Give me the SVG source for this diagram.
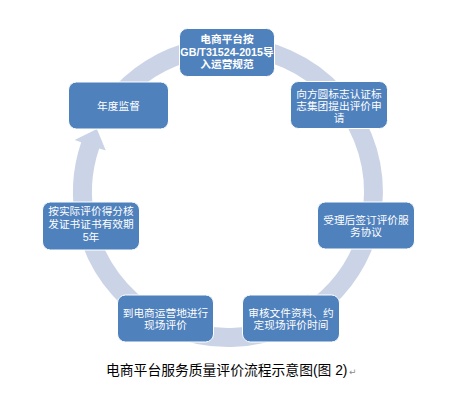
<svg xmlns="http://www.w3.org/2000/svg" width="459" height="394" viewBox="0 0 459 394">
<style>
.arr{fill:#cbd4e6;stroke:none}
.box{fill:#4f81bd;stroke:#ffffff;stroke-width:1}
.t{font-family:"Liberation Sans","Noto Sans CJK SC",sans-serif;font-size:10.7px;fill:#ffffff;text-anchor:middle}
.cap{font-family:"Liberation Sans","Noto Sans CJK SC",sans-serif;font-size:13.8px;fill:#000000}
</style>
<rect width="459" height="394" fill="#ffffff"/>
<g id="connectors">
<path class="arr" d="M106.8,95.4 A155,155 0 0 1 193.1,41.0 L191.6,34.1 L212.8,47.3 L199.0,66.3 L197.4,59.5 A136,136 0 0 0 121.7,107.2 Z"/>
<path class="arr" d="M228,37 A155,155 0 0 1 343.2,88.3 L348.4,83.6 L347.2,108.5 L323.9,105.7 L329.1,101.0 A136,136 0 0 0 228,56 Z"/>
<path class="arr" d="M349.2,95.4 A155,155 0 0 1 382.1,208.2 L389.1,208.9 L369.8,224.7 L356.3,205.5 L363.3,206.2 A136,136 0 0 0 334.3,107.2 Z"/>
<path class="arr" d="M379.1,226.5 A155,155 0 0 1 323.4,314.1 L327.7,319.7 L302.9,316.7 L307.4,293.7 L311.7,299.2 A136,136 0 0 0 360.6,222.3 Z"/>
<path class="arr" d="M295.3,331.7 A155,155 0 0 1 167.4,334.7 L164.7,341.1 L155.25,318.0 L177.6,310.7 L174.9,317.2 A136,136 0 0 0 287.0,314.5 Z"/>
<path class="arr" d="M160.7,331.7 A155,155 0 0 1 82.3,245.0 L75.8,247.4 L86.2,224.7 L106.8,236.1 L100.2,238.5 A136,136 0 0 0 169.0,314.5 Z"/>
<path class="arr" d="M76.9,226.5 A155,155 0 0 1 81.2,142.3 L74.6,140.1 L96.9,128.9 L105.8,150.6 L99.2,148.4 A136,136 0 0 0 95.4,222.3 Z"/>
</g>
<g id="n1">
<rect class="box" x="179.5" y="28.5" width="95" height="48" rx="8"/>
<text class="t" x="227" y="42.5" font-weight="bold">电商平台按</text>
<text class="t" x="227" y="55.5" font-weight="bold">GB/T31524-2015导</text>
<text class="t" x="227" y="68" font-weight="bold">入运营规范</text>
</g>
<g id="n2">
<rect class="box" x="290.5" y="81.5" width="97" height="47" rx="8"/>
<text class="t" x="339" y="97.5">向方圆标志认证标</text>
<text class="t" x="339" y="109.5">志集团提出评价申</text>
<text class="t" x="339" y="121.5">请</text>
</g>
<g id="n3">
<rect class="box" x="317.5" y="202" width="97" height="47" rx="8"/>
<text class="t" x="366" y="223.5">受理后签订评价服</text>
<text class="t" x="366" y="236">务协议</text>
</g>
<g id="n4">
<rect class="box" x="242.5" y="295" width="97" height="47" rx="8"/>
<text class="t" x="291" y="316.5">审核文件资料、约</text>
<text class="t" x="291" y="329">定现场评价时间</text>
</g>
<g id="n5">
<rect class="box" x="117.5" y="295" width="96" height="47" rx="8"/>
<text class="t" x="165.5" y="316.5">到电商运营地进行</text>
<text class="t" x="165.5" y="329">现场评价</text>
</g>
<g id="n6">
<rect class="box" x="42.5" y="202" width="97" height="48" rx="8"/>
<text class="t" x="91" y="215">按实际评价得分核</text>
<text class="t" x="91" y="228">发证书证书有效期</text>
<text class="t" x="91" y="241">5年</text>
</g>
<g id="n7">
<rect class="box" x="68.5" y="82" width="100" height="47" rx="8"/>
<text class="t" x="118.5" y="109.5">年度监督</text>
</g>
<text class="cap" x="106" y="375">电商平台服务质量评价流程示意图(图 2)</text>
<text x="349" y="375" font-family="'DejaVu Sans',sans-serif" font-size="9" fill="#8c8c8c">↵</text>
</svg>
